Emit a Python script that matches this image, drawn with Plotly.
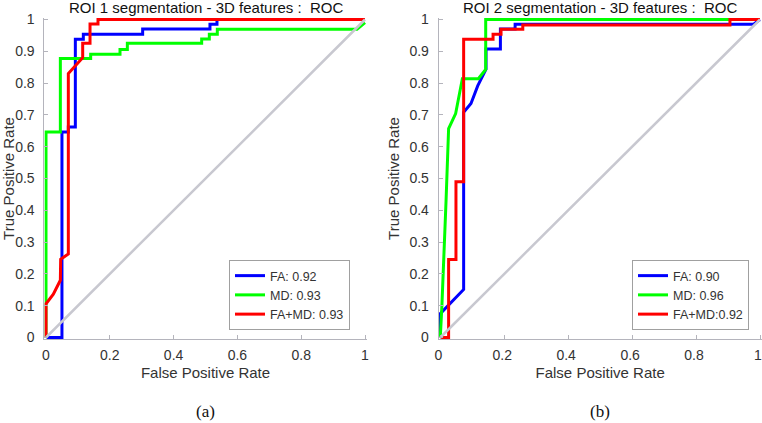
import plotly.graph_objects as go
from plotly.subplots import make_subplots

# ---------------- data ----------------
# ROI 1
roi1_fa_fpr = [0, 0.05, 0.05, 0.07, 0.07, 0.092, 0.092, 0.117, 0.117, 0.303, 0.303, 0.514, 0.514, 0.536, 0.536, 1.0]
roi1_fa_tpr = [0, 0, 0.646, 0.646, 0.662, 0.662, 0.938, 0.938, 0.954, 0.954, 0.970, 0.970, 0.985, 0.985, 1.0, 1.0]
roi1_md_fpr = [0, 0, 0.045, 0.045, 0.14, 0.14, 0.232, 0.232, 0.255, 0.255, 0.488, 0.488, 0.512, 0.512, 0.537, 0.537, 0.975, 1.0]
roi1_md_tpr = [0, 0.646, 0.646, 0.877, 0.877, 0.891, 0.891, 0.906, 0.906, 0.925, 0.925, 0.939, 0.939, 0.954, 0.954, 0.969, 0.969, 0.99]
roi1_fm_fpr = [0, 0, 0.023, 0.045, 0.046, 0.07, 0.07, 0.115, 0.115, 0.138, 0.138, 0.163, 0.163, 1.0]
roi1_fm_tpr = [0, 0.106, 0.136, 0.18, 0.246, 0.263, 0.83, 0.88, 0.925, 0.925, 0.986, 0.986, 1.0, 1.0]

# ROI 2
roi2_fa_fpr = [0, 0, 0.073, 0.073, 0.096, 0.117, 0.143, 0.143, 0.188, 0.188, 0.234, 0.234, 0.98, 1.0]
roi2_fa_tpr = [0, 0.075, 0.151, 0.708, 0.736, 0.791, 0.844, 0.907, 0.907, 0.97, 0.97, 0.985, 0.985, 1.0]
roi2_md_fpr = [0, 0.005, 0.018, 0.026, 0.048, 0.069, 0.119, 0.142, 0.142, 1.0]
roi2_md_tpr = [0, 0.10, 0.43, 0.657, 0.704, 0.814, 0.814, 0.843, 1.0, 1.0]
roi2_fm_fpr = [0, 0.026, 0.026, 0.049, 0.049, 0.073, 0.073, 0.165, 0.165, 0.19, 0.19, 0.258, 0.258, 0.906, 0.906, 1.0]
roi2_fm_tpr = [0, 0, 0.245, 0.245, 0.49, 0.49, 0.938, 0.938, 0.954, 0.954, 0.969, 0.969, 0.983, 0.983, 1.0, 1.0]

chance = [0, 1]

titles = ["ROI 1 segmentation - 3D features :  ROC", "ROI 2 segmentation - 3D features :  ROC"]
legend_names = [["FA: 0.92", "MD: 0.93", "FA+MD: 0.93"], ["FA: 0.90", "MD: 0.96", "FA+MD:0.92"]]
panel_labels = ["(a)", "(b)"]
y_ticks = [0, 0.1, 0.2, 0.3, 0.4, 0.5, 0.6, 0.7, 0.8, 0.9, 1]
y_tick_text = ["0", "0.1", "0.2", "0.3", "0.4", "0.5", "0.6", "0.7", "0.8", "0.9", "1"]
x_ticks = [0, 0.2, 0.4, 0.6, 0.8, 1]
x_tick_text = ["0", "0.2", "0.4", "0.6", "0.8", "1"]

# ---------------- styling ----------------
W, H = 762, 423
SANS = "Liberation Sans, Arial, sans-serif"
SERIF = "Liberation Serif, Times New Roman, serif"
TXT = "#333333"
AXC = "#b4b4bc"
COLORS = ["#0000ff", "#00ff00", "#ff0000"]
PAD = 0.005

fig = make_subplots(rows=1, cols=2)

panels = [
    ([roi1_fa_fpr, roi1_md_fpr, roi1_fm_fpr], [roi1_fa_tpr, roi1_md_tpr, roi1_fm_tpr]),
    ([roi2_fa_fpr, roi2_md_fpr, roi2_fm_fpr], [roi2_fa_tpr, roi2_md_tpr, roi2_fm_tpr]),
]
legend_ids = ["legend", "legend2"]

for c, (xs, ys) in enumerate(panels, start=1):
    for k in range(3):
        fig.add_trace(go.Scatter(x=xs[k], y=ys[k], mode="lines",
                                 line=dict(color=COLORS[k], width=3),
                                 name=legend_names[c - 1][k],
                                 legend=legend_ids[c - 1]),
                      row=1, col=c)
    fig.add_trace(go.Scatter(x=chance, y=chance, mode="lines",
                             line=dict(color="#c8c8d0", width=2.5),
                             showlegend=False, hoverinfo="skip"),
                  row=1, col=c)

# pixel geometry of axes (0 and 1 positions)
x_px = [(46, 365), (440.3, 760)]
y_px = (337.5, 19.5)

for c in (1, 2):
    x0, x1 = x_px[c - 1]
    pad_px = PAD * (x1 - x0)
    dom_x = [(x0 - pad_px) / W, min(1.0, (x1 + pad_px) / W)]
    pad_py = PAD * (y_px[0] - y_px[1])
    dom_y = [1 - (y_px[0] + pad_py) / H, 1 - (y_px[1] - pad_py) / H]
    fig.update_xaxes(row=1, col=c, domain=dom_x, range=[-PAD, 1 + PAD], automargin=False,
                     tickvals=x_ticks, ticktext=x_tick_text, ticklabeloverflow="allow",
                     ticklabelshift=(-2 if c == 2 else 0),
                     showgrid=False, zeroline=False, showline=True, linecolor=AXC, linewidth=1,
                     ticks="inside", ticklen=4, tickcolor=AXC, ticklabelstandoff=3,
                     tickfont=dict(family=SANS, size=14, color=TXT),
                     title=dict(text="False Positive Rate", standoff=5,
                                font=dict(family=SANS, size=15, color=TXT)))
    fig.update_yaxes(row=1, col=c, domain=dom_y, range=[-PAD, 1 + PAD], automargin=False,
                     tickvals=y_ticks, ticktext=y_tick_text,
                     showgrid=False, zeroline=False, showline=True, linecolor=AXC, linewidth=1,
                     ticks="inside", ticklen=4, tickcolor=AXC, ticklabelstandoff=6,
                     tickfont=dict(family=SANS, size=14, color=TXT),
                     title=dict(text="True Positive Rate", standoff=6,
                                font=dict(family=SANS, size=15, color=TXT)))

    cx = (x0 + x1) / 2 / W
    fig.add_annotation(text=titles[c - 1], xref="paper", yref="paper",
                       x=cx, y=1 - 7.5 / H, xanchor="center", yanchor="middle",
                       showarrow=False, font=dict(family=SANS, size=15, color="#111111"))
    fig.add_annotation(text=panel_labels[c - 1], xref="paper", yref="paper",
                       x=cx, y=1 - 411 / H, xanchor="center", yanchor="middle",
                       showarrow=False, font=dict(family=SERIF, size=17, color="#111111"))

leg_common = dict(xref="paper", yref="paper", xanchor="right", yanchor="bottom",
                  bgcolor="white", bordercolor="#a0a0a0", borderwidth=1,
                  font=dict(family=SANS, size=12.5, color=TXT),
                  itemwidth=30, tracegroupgap=0)
fig.update_layout(
    width=W, height=H, margin=dict(l=0, r=0, t=0, b=0),
    plot_bgcolor="white", paper_bgcolor="white",
    legend=dict(x=350 / W, y=1 - 330 / H, **leg_common),
    legend2=dict(x=749 / W, y=1 - 330 / H, **leg_common),
)

fig.write_html("out.html", config={"displayModeBar": False},
               post_script="document.body.style.margin='0px';document.body.style.overflow='hidden';")
